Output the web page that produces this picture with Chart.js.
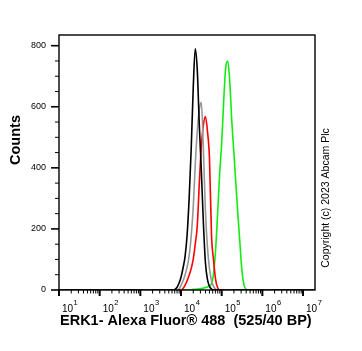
<!DOCTYPE html>
<html>
<head>
<meta charset="utf-8">
<script src="https://cdn.jsdelivr.net/npm/chart.js@4.4.0/dist/chart.umd.min.js"></script>
<style>
  html, body { margin: 0; padding: 0; background: #fff; }
  canvas { display: block; }
</style>
</head>
<body>
<canvas id="histo" width="362" height="351"></canvas>
<script>
// log10 of fluorescence bin centres
const binsLog = [1.00, 3.80, 3.85, 3.90, 3.95, 4.00, 4.05, 4.10, 4.15, 4.20, 4.25, 4.30, 4.35, 4.40, 4.45, 4.50,
    4.55, 4.60, 4.65, 4.70, 4.75, 4.80, 4.85, 4.90, 4.95, 5.00, 5.05, 5.10, 5.15, 5.20, 5.25, 5.30,
    5.35, 5.40, 5.45, 5.50, 5.55, 5.60, 5.65, 7.30];

const blackCounts = [0, 0, 2, 8, 22, 42, 72, 110, 180, 300, 460, 660, 790, 720, 540, 390,
    220, 90, 35, 12, 3, 0, 0, 0, 0, 0, 0, 0, 0, 0, 0, 0,
    0, 0, 0, 0, 0, 0, 0, 0];
const grayCounts = [0, 0, 0, 0, 3, 15, 30, 50, 75, 112, 175, 270, 410, 520, 590, 615,
    460, 260, 140, 70, 30, 12, 3, 0, 0, 0, 0, 0, 0, 0, 0, 0,
    0, 0, 0, 0, 0, 0, 0, 0];
const redCounts = [0, 0, 0, 0, 0, 0, 5, 16, 30, 48, 70, 100, 150, 210, 350, 470,
    540, 568, 520, 430, 180, 98, 35, 8, 0, 0, 0, 0, 0, 0, 0, 0,
    0, 0, 0, 0, 0, 0, 0, 0];
const greenCounts = [0, 0, 0, 0, 0, 0, 0, 0, 0, 1, 1, 2, 2, 3, 4, 5,
    6, 8, 10, 14, 20, 55, 130, 250, 380, 480, 620, 730, 750, 680, 550, 450,
    345, 245, 150, 60, 15, 2, 0, 0];

const decades = [1, 2, 3, 4, 5, 6, 7];
const yMajor = [0, 200, 400, 600, 800];

function toPoints(counts) {
    return binsLog.map((l, i) => ({ x: Math.pow(10, l), y: counts[i] }));
}

const fcsAxes = {
    id: 'fcsAxes',
    afterDraw(chart) {
        const ctx = chart.ctx;
        const a = chart.chartArea;
        const xs = chart.scales.x;
        const ys = chart.scales.y;
        ctx.save();
        ctx.strokeStyle = '#000';
        ctx.fillStyle = '#000';

        // frame
        ctx.lineWidth = 1.4;
        ctx.strokeRect(a.left, a.top, a.right - a.left, a.bottom - a.top);

        // y ticks
        for (let v = 0; v <= 800; v += 50) {
            const y = ys.getPixelForValue(v);
            const major = v % 200 === 0;
            ctx.lineWidth = major ? 1.6 : 1;
            ctx.beginPath();
            ctx.moveTo(a.left - (major ? 8 : 4), y);
            ctx.lineTo(a.left, y);
            ctx.stroke();
        }

        // x ticks and labels
        decades.forEach(e => {
            for (let m = 1; m <= 9; m++) {
                const v = m * Math.pow(10, e);
                if (v > xs.max) break;
                const x = xs.getPixelForValue(v);
                ctx.lineWidth = m === 1 ? 2 : 1;
                ctx.beginPath();
                ctx.moveTo(x, a.bottom);
                ctx.lineTo(x, a.bottom + (m === 1 ? 6 : 3.5));
                ctx.stroke();
            }
            const x0 = xs.getPixelForValue(Math.pow(10, e)) + 3;
            ctx.textBaseline = 'alphabetic';
            ctx.textAlign = 'left';
            ctx.font = '10px Arial, "Liberation Sans", sans-serif';
            ctx.fillText('10', x0, 312);
            const w = ctx.measureText('10').width;
            ctx.font = '7.5px Arial, "Liberation Sans", sans-serif';
            ctx.fillText(String(e), x0 + w + 0.5, 305);
        });

        // axis titles
        ctx.font = 'bold 14.5px Arial, "Liberation Sans", sans-serif';
        ctx.textAlign = 'left';
        ctx.textBaseline = 'middle';
        ctx.fillText('ERK1- Alexa Fluor\u00ae 488  (525/40 BP)', 60, 321);

        ctx.save();
        ctx.translate(16, 140);
        ctx.rotate(-Math.PI / 2);
        ctx.textAlign = 'center';
        ctx.fillText('Counts', 0, 0);
        ctx.restore();

        ctx.save();
        ctx.translate(326, 198);
        ctx.rotate(-Math.PI / 2);
        ctx.textAlign = 'center';
        ctx.font = '10.5px Arial, "Liberation Sans", sans-serif';
        ctx.fillText('Copyright (c) 2023 Abcam Plc', 0, 0);
        ctx.restore();

        ctx.restore();
    }
};

const lineStyle = {
    borderWidth: 1.6,
    pointRadius: 0,
    fill: false,
    cubicInterpolationMode: 'monotone'
};

const histoChart = new Chart(document.getElementById('histo'), {
    type: 'line',
    data: {
        datasets: [
            { label: 'black', data: toPoints(blackCounts), borderColor: '#000000', ...lineStyle },
            { label: 'gray', data: toPoints(grayCounts), borderColor: 'rgb(150,150,150)', ...lineStyle },
            { label: 'red', data: toPoints(redCounts), borderColor: 'rgb(255,0,0)', ...lineStyle },
            { label: 'green', data: toPoints(greenCounts), borderColor: 'rgb(20,235,20)', ...lineStyle }
        ]
    },
    options: {
        responsive: false,
        animation: false,
        devicePixelRatio: 1,
        layout: { padding: { top: 35, right: 47, left: 0, bottom: 0 } },
        plugins: {
            legend: { display: false },
            tooltip: { enabled: false }
        },
        scales: {
            x: {
                type: 'logarithmic',
                min: 10,
                max: 1.97e7,
                grid: { display: false, drawTicks: false },
                border: { display: false },
                ticks: { display: false },
                afterFit: s => { s.height = 61; }
            },
            y: {
                min: 0,
                max: 835,
                grid: { display: false, drawTicks: false },
                border: { display: false },
                ticks: {
                    stepSize: 50,
                    padding: 13,
                    color: '#000',
                    font: { family: 'Arial, "Liberation Sans", sans-serif', size: 9 },
                    callback: v => (yMajor.includes(v) ? String(v) : '')
                },
                afterFit: s => { s.width = 59; }
            }
        }
    },
    plugins: [fcsAxes]
});
</script>
</body>
</html>
